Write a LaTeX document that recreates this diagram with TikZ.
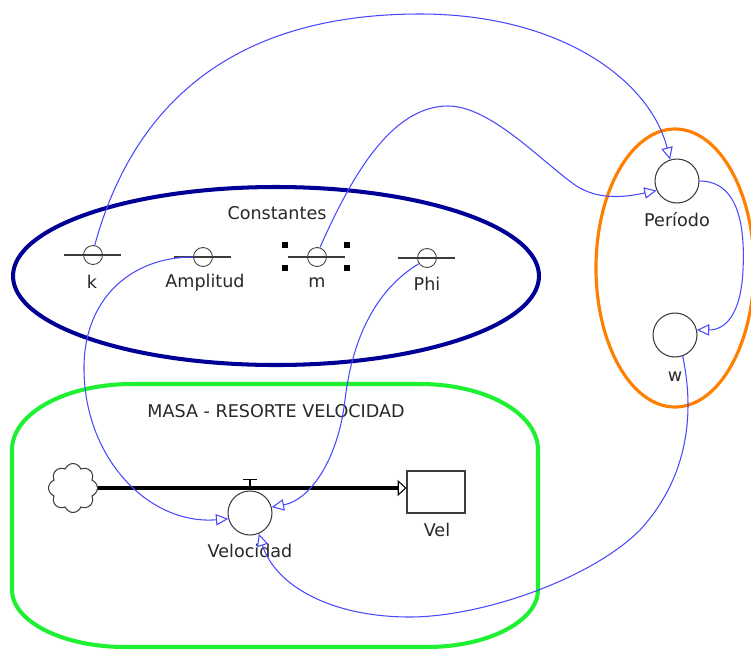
\documentclass[tikz,border=0pt]{standalone}
\usepackage{fontspec}
\setmainfont{DejaVu Sans}
\usetikzlibrary{arrows.meta,shapes.symbols,calc}
\definecolor{lnk}{RGB}{72,72,255}
\definecolor{navyc}{RGB}{0,0,150}
\definecolor{grn}{RGB}{30,240,50}
\definecolor{orgc}{RGB}{255,128,0}
\definecolor{gtxt}{RGB}{40,40,40}
\definecolor{outl}{RGB}{60,60,60}
\begin{document}
\begin{tikzpicture}[x=0.02cm,y=-0.02cm,
  lbl/.style={font=\fontsize{10}{12}\selectfont, text=gtxt, inner sep=0},
  aux/.style={circle,draw=outl,line width=0.5pt,minimum size=0.38cm,inner sep=0},
  auxline/.style={draw=outl,line width=0.6pt},
  big/.style={circle,draw=outl,line width=0.6pt,minimum size=0.88cm,inner sep=0},
  link/.style={draw=lnk,line width=0.6pt,-{Triangle[open,length=7pt,width=6.5pt]}},
  flow/.style={draw=black,line width=2.8pt,-{Triangle[open,length=5pt,width=9pt,line width=0.6pt]}},
  grp/.style={line width=2.3pt}
]
\useasboundingbox (0,0) rectangle (751,650);

% group outlines
\draw[grp,navyc] (276,276) ellipse [x radius=263, y radius=89];
\draw[line width=1.8pt,orgc] (675,268) ellipse [x radius=79, y radius=139];
\draw[grp,grn] (132,384) -- (420,384) .. controls (485,384) and (538,413) .. (538,450)
  -- (538,590) .. controls (538,621) and (488,647) .. (427,647)
  -- (125,647) .. controls (62,647) and (12,621) .. (12,590)
  -- (12,450) .. controls (12,413) and (66,384) .. (132,384) -- cycle;

% titles
\node[lbl] (tconst) at (277,213) {Constantes};
\node[lbl] (tmasa) at (276,411) {MASA - RESORTE VELOCIDAD};

% constants
\node[aux] (k) at (93,255) {};
\node[aux] (amp) at (203,257) {};
\node[aux] (m) at (317,257) {};
\node[aux] (phi) at (427,258) {};
\foreach \n in {k,amp,m,phi}{
  \draw[auxline] ($(\n.center)+(-29,0)$) -- ($(\n.center)+(28,0)$);
}
\foreach \dx/\dy in {-32/-12,30/-12,-32/11,30/11}{
  \fill ($(m.center)+({\dx-3},{\dy-3})$) rectangle ++(6,6);
}
\node[lbl] (kl) at (92,282) {k};
\node[lbl] (ampl) at (205,283) {Amplitud};
\node[lbl] (ml) at (317,283) {m};
\node[lbl] (phil) at (427,284) {Phi};

% stock and flow
\node[cloud, cloud puffs=8, cloud puff arc=140, aspect=1, draw=outl, line width=0.6pt, minimum width=0.98cm, minimum height=0.98cm, inner sep=0] (src) at (73,488) {};
\node[draw=outl, line width=0.6pt, minimum width=1.16cm, minimum height=0.84cm, inner sep=0] (vel) at (436,492) {};
\node[lbl] (vell) at (437,530) {Vel};
\node[big] (velo) at (250,513) {};
\node[lbl] (velol) at (250,551) {Velocidad};
\draw[line width=0.8pt] (velo.north) -- ++(0,-11) coordinate (tt);
\draw[line width=0.8pt] ($(tt)+(-7,0)$) -- ($(tt)+(7,0)$);
\draw[flow] (src.east) -- (src.east -| vel.west);

% right group
\node[big] (per) at (677,181) {};
\node[lbl] (perl) at (677,220) {Período};
\node[big] (w) at (675,335) {};
\node[lbl] (wl) at (675,377) {w};

% links
\draw[link] (k.80) .. controls (140,80) and (260,14) .. (420,14)
  .. controls (560,14) and (650,80) .. (per.108);
\draw[link] (m.73) .. controls (350,180) and (390,106) .. (448,106)
  .. controls (490,106) and (540,160) .. (575,185)
  .. controls (600,202) and (630,196) .. (per.205);
\draw[link] (amp.west) .. controls (130,257) and (83,300) .. (84,370)
  .. controls (85,460) and (150,525) .. (velo.195);
\draw[link] (phi.215) .. controls (375,290) and (352,340) .. (345,400)
  .. controls (338,460) and (310,500) .. (velo.15);
\draw[link] (per.east) .. controls (740,181) and (745,230) .. (743,270)
  .. controls (741,315) and (725,330) .. (w.13);
\draw[link] (w.-70) .. controls (692,400) and (695,470) .. (640,530)
  .. controls (590,580) and (480,617) .. (410,617)
  .. controls (330,617) and (275,585) .. (velo.-67);
\end{tikzpicture}
\end{document}
